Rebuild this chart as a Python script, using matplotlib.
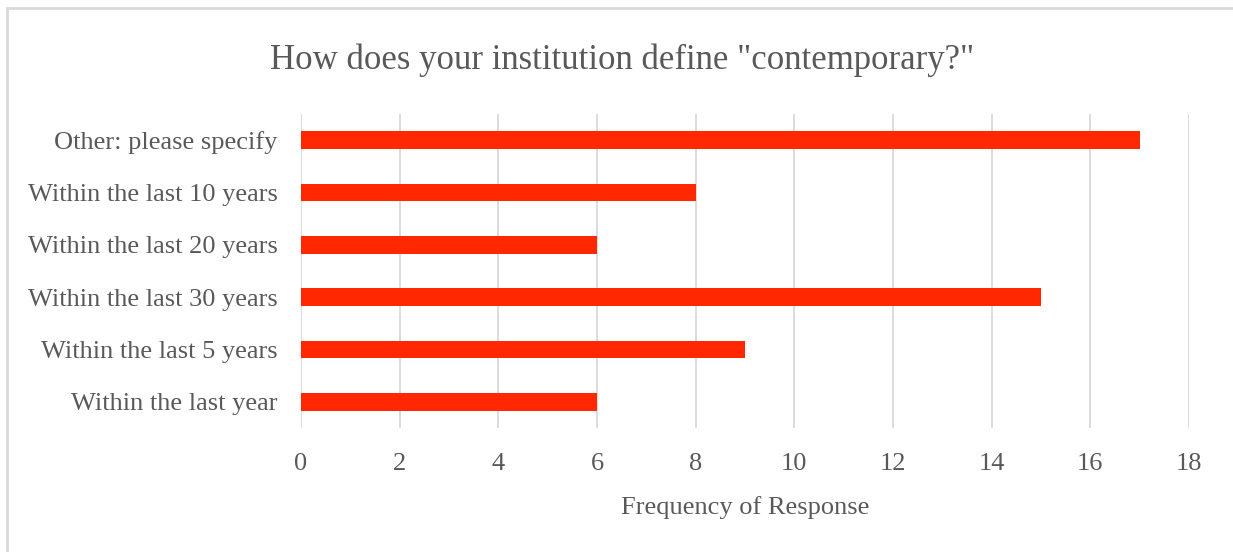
import matplotlib.pyplot as plt
from matplotlib.patches import Rectangle

# survey answers, bottom to top as drawn
categories = ['Within the last year', 'Within the last 5 years', 'Within the last 30 years',
              'Within the last 20 years', 'Within the last 10 years', 'Other: please specify']
counts = [6, 9, 15, 6, 8, 17]
xticks = [0, 2, 4, 6, 8, 10, 12, 14, 16, 18]

text_color = '#595959'
bar_color = '#ff2800'
grid_color = '#d9d9d9'

plt.rcParams['font.family'] = ['Liberation Serif', 'DejaVu Serif']

fig = plt.figure(figsize=(12.33, 5.52), dpi=100)
# outer chart border
fig.patches.append(Rectangle((7 / 1233, -0.01), 1.02, 1 - 8 / 552 + 0.01, transform=fig.transFigure,
                             fill=False, edgecolor='#d9d9d9', linewidth=2))

ax = fig.add_axes([301 / 1233, 1 - 428 / 552, (1189 - 301) / 1233, (428 - 114) / 552])
ypos = range(len(categories))
ax.barh(ypos, counts, height=0.34, color=bar_color, zorder=3)

ax.set_xlim(0, 18)
ax.set_ylim(-0.5, len(categories) - 0.5)
ax.set_xticks(xticks)
ax.set_yticks(list(ypos))
ax.set_yticklabels(categories)
ax.grid(axis='x', color=grid_color, linewidth=1.3, zorder=0)
for s in ax.spines.values():
    s.set_visible(False)
ax.tick_params(axis='both', length=0, labelsize=19, colors=text_color)
ax.tick_params(axis='x', pad=18)
ax.tick_params(axis='y', pad=17)

ax.set_xlabel('Frequency of Response', fontsize=19, color=text_color, labelpad=15)
fig.text(622 / 1233, 1 - 60 / 552, 'How does your institution define "contemporary?"',
         ha='center', va='center', fontsize=25, color=text_color)

fig.savefig('out.png', dpi=100)
